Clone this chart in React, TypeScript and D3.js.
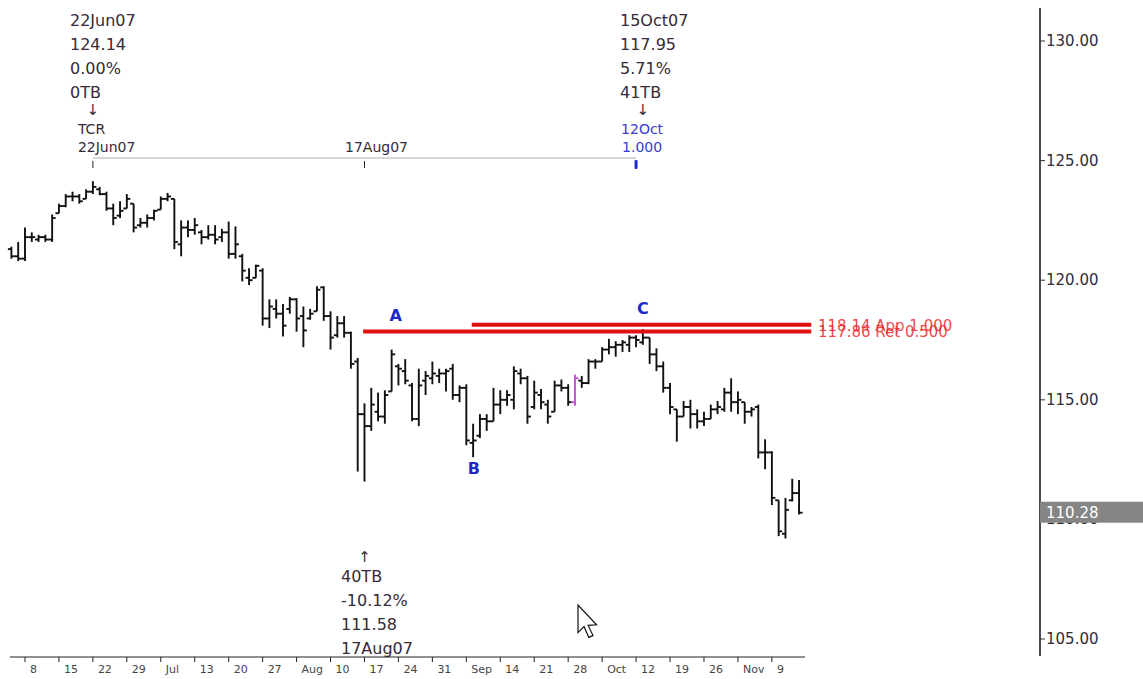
import React from "react";
import * as d3 from "d3";

const opens = [121.3,121.0,120.9,121.8,121.7,121.8,121.7,122.8,123.1,123.5,123.5,123.4,123.7,123.8,123.6,123.0,122.7,123.0,123.2,122.3,122.4,122.6,122.95,123.4,123.4,121.5,122.2,122.1,122.0,121.8,121.9,121.8,122.0,121.1,121.0,120.1,120.1,120.4,118.4,118.8,118.6,118.8,119.2,118.5,118.4,118.7,119.7,118.5,117.7,118.2,117.8,116.6,114.4,113.9,114.5,114.3,115.35,116.4,116.2,115.6,114.2,115.8,115.9,116.0,116.1,116.3,115.2,115.5,113.2,113.5,114.2,114.1,114.8,115.0,115.0,116.1,115.9,114.7,115.2,114.8,114.5,115.6,115.5,114.9,115.8,115.7,116.6,116.6,117.1,117.2,117.3,117.3,117.6,117.4,117.6,116.9,116.4,115.5,114.6,114.3,114.7,114.4,114.1,114.2,114.6,114.6,115.3,114.9,114.9,114.5,114.7,112.8,112.8,110.8,109.4,110.8,111.1];
const highs = [121.4,121.6,122.2,122.0,121.9,121.9,122.75,123.2,123.6,123.7,123.6,123.8,124.14,123.9,123.7,123.2,123.3,123.6,123.2,122.6,122.75,122.95,123.5,123.65,123.4,122.5,122.5,122.6,122.1,122.3,122.3,122.15,122.45,122.25,121.1,120.5,120.65,120.5,119.2,119.2,119.0,119.3,119.25,118.9,118.8,119.75,119.75,118.7,118.5,118.5,117.85,116.75,114.85,115.5,115.3,115.4,117.1,116.5,116.7,115.7,116.3,116.2,116.6,116.3,116.3,116.5,115.6,115.65,114.0,114.4,114.4,115.5,115.4,115.4,116.4,116.3,116.0,115.8,115.45,115.0,115.8,115.85,115.65,116.05,116.0,116.7,116.7,117.2,117.55,117.45,117.5,117.7,117.7,117.95,117.6,117.15,116.6,115.7,114.6,114.95,115.0,114.6,114.5,114.8,114.95,115.5,115.9,115.35,114.9,114.7,114.8,113.35,112.85,110.8,110.9,111.7,111.65];
const lows = [120.9,120.8,120.8,121.6,121.6,121.6,121.6,122.8,123.05,123.3,123.2,123.4,123.6,123.55,122.9,122.3,122.6,123.0,122.0,122.2,122.2,122.5,122.95,123.3,121.3,121.0,121.8,121.9,121.5,121.7,121.5,121.6,120.9,120.9,119.95,119.8,120.1,118.1,118.0,118.4,117.65,118.6,117.85,117.2,118.35,118.7,118.3,117.1,117.6,117.6,116.3,112.0,111.58,113.7,114.1,114.0,115.35,115.6,115.65,114.1,113.9,115.2,115.65,115.7,115.35,115.0,114.9,113.1,112.6,113.4,113.7,114.1,114.4,114.75,114.6,115.65,114.0,114.6,114.6,114.0,114.5,115.35,114.75,114.75,115.5,115.65,116.3,116.6,116.9,116.8,117.0,117.0,117.2,117.3,116.5,116.2,115.3,114.4,113.25,114.3,113.8,113.8,113.9,114.2,114.4,114.5,114.5,114.4,114.0,114.3,112.55,112.1,110.6,109.3,109.2,110.75,110.2];
const closes = [121.0,120.9,121.8,121.8,121.8,121.7,122.6,123.1,123.5,123.5,123.3,123.7,123.9,123.6,123.0,122.6,122.9,123.4,122.2,122.4,122.6,122.9,123.4,123.5,121.6,122.2,122.1,122.3,121.8,121.9,121.7,122.0,121.1,121.5,120.4,120.0,120.6,118.4,118.9,118.6,118.1,119.2,118.4,117.9,118.6,119.6,118.5,117.6,118.2,117.8,116.5,114.4,113.9,114.8,114.3,115.2,116.9,116.3,115.8,114.2,115.6,116.0,116.1,116.1,116.2,115.2,115.5,113.3,113.3,114.2,114.1,114.8,115.0,115.2,116.2,115.9,114.3,115.3,114.9,114.3,115.6,115.5,114.9,115.9,115.7,116.6,116.6,117.1,117.2,117.3,117.4,117.6,117.5,117.6,116.9,116.4,115.5,114.7,114.3,114.7,114.4,114.1,114.2,114.6,114.7,115.3,114.9,115.0,114.5,114.6,112.8,112.8,110.9,109.5,110.4,111.1,110.28];

// special bar highlighted in magenta (index of 1 Oct 2007)
const highlightIndex = 83;

const weekTickLabels = ["8","15","22","29","Jul","13","20","27","Aug","10","17","24","31","Sep","14","21","28","Oct","12","19","26","Nov","9"];
const weekTickIndex = weekTickLabels.map((_, k) => 2 + k * 5);

const priceTicks = [130, 125, 120, 115, 110, 105];
const lastPrice = 110.28;

const topLeftNote = ["22Jun07", "124.14", "0.00%", "0TB"];
const topRightNote = ["15Oct07", "117.95", "5.71%", "41TB"];
const bottomNote = ["40TB", "-10.12%", "111.58", "17Aug07"];

const pivotHigh = { i: 12, label: "22Jun07" };
const pivotLow = { i: 52, label: "17Aug07" };
const projection = { i: 92, label1: "12Oct", label2: "1.000" };

const levels = [
  { value: 118.14, text: "118.14 App 1.000", start: 67.8 },
  { value: 117.86, text: "117.86 Ret 0.500", start: 51.8 },
];

const waveLabels = [
  { t: "A", i: 56.6, v: 118.3 },
  { t: "B", i: 68.1, v: 111.9 },
  { t: "C", i: 93, v: 118.6 },
];

const FONT = "DejaVu Sans, Verdana, sans-serif";

export default function App() {
  const W = 1143, H = 679;
  const x = d3.scaleLinear().domain([0, 116]).range([11.4, 11.4 + 116 * 6.79]);
  const y = d3.scaleLinear().domain([105, 130]).range([639, 41]);
  const axisX = 1040;
  const axisY = 657;
  const tick = 3.5;
  const lineY = 158;
  const textColor = "#352a38";

  return (
    <svg width={W} height={H} style={{ position: "absolute", left: 0, top: 0, background: "#fff" }} fontFamily={FONT}>
      <rect x={0} y={0} width={W} height={H} fill="#fff" />
      {/* OHLC bars */}
      {opens.map((o, i) => {
        const cx = x(i);
        const col = i === highlightIndex ? "#c84ad8" : "#111";
        return (
          <g key={i} stroke={col} strokeWidth={1.9}>
            <line x1={cx} x2={cx} y1={y(highs[i])} y2={y(lows[i])} />
            <line x1={cx - tick} x2={cx} y1={y(o)} y2={y(o)} />
            <line x1={cx} x2={cx + tick} y1={y(closes[i])} y2={y(closes[i])} />
          </g>
        );
      })}

      {/* red levels */}
      {levels.map((l, k) => (
        <g key={k}>
          <line x1={x(l.start)} x2={x(117.8)} y1={y(l.value)} y2={y(l.value)} stroke="#e01010" strokeWidth={4} />
          <text x={818} y={y(l.value) + 6} fontSize={15} fill="#e8282c" fillOpacity={0.85}>{l.text}</text>
        </g>
      ))}

      {/* wave labels */}
      {waveLabels.map((w) => (
        <text key={w.t} x={x(w.i)} y={y(w.v)} fontSize={16} fontWeight="bold" fill="#1c28c8" textAnchor="middle">{w.t}</text>
      ))}

      {/* time-bar line */}
      <line x1={x(pivotHigh.i)} x2={x(projection.i)} y1={lineY} y2={lineY} stroke="#b0b0b0" strokeWidth={1} />
      <line x1={x(pivotHigh.i)} x2={x(pivotHigh.i)} y1={161} y2={168} stroke="#222" strokeWidth={1} />
      <line x1={x(pivotLow.i)} x2={x(pivotLow.i)} y1={161} y2={168} stroke="#222" strokeWidth={1} />
      <rect x={x(projection.i) - 1.5} y={160} width={3} height={9} fill="#1c28d0" rx={1} />
      <text x={x(pivotHigh.i) - 15} y={134} fontSize={14} fill={textColor}>TCR</text>
      <text x={x(pivotHigh.i) - 15} y={152} fontSize={14} fill={textColor}>{pivotHigh.label}</text>
      <text x={x(pivotLow.i) + 12} y={152} fontSize={14} fill={textColor} textAnchor="middle">{pivotLow.label}</text>
      <text x={x(projection.i) + 6} y={134} fontSize={14} fill="#3a3ad0" textAnchor="middle">{projection.label1}</text>
      <text x={x(projection.i) + 6} y={152} fontSize={14} fill="#3a3ad0" textAnchor="middle">{projection.label2}</text>

      {/* notes */}
      {topLeftNote.map((t, k) => (
        <text key={"tl" + k} x={70} y={26 + k * 24} fontSize={16} fill={textColor}>{t}</text>
      ))}
      <text x={x(pivotHigh.i)} y={115} fontSize={15} fill={textColor} textAnchor="middle">↓</text>
      {topRightNote.map((t, k) => (
        <text key={"tr" + k} x={620} y={26 + k * 24} fontSize={16} fill={textColor}>{t}</text>
      ))}
      <text x={x(93)} y={115} fontSize={15} fill={textColor} textAnchor="middle">↓</text>
      <text x={x(pivotLow.i)} y={562} fontSize={15} fill={textColor} textAnchor="middle">↑</text>
      {bottomNote.map((t, k) => (
        <text key={"b" + k} x={341} y={582 + k * 24} fontSize={16} fill={textColor}>{t}</text>
      ))}

      {/* bottom axis */}
      <line x1={10} x2={805} y1={axisY} y2={axisY} stroke="#222" strokeWidth={1} />
      {weekTickIndex.map((ti, k) => (
        <g key={"wt" + k}>
          <line x1={x(ti)} x2={x(ti)} y1={axisY} y2={axisY + 5} stroke="#222" strokeWidth={1} />
          <text x={x(ti) + 5} y={axisY + 16} fontSize={11} fill="#444">{weekTickLabels[k]}</text>
        </g>
      ))}

      {/* right axis */}
      <line x1={axisX} x2={axisX} y1={8} y2={656} stroke="#111" strokeWidth={1.5} />
      {priceTicks.map((p) => (
        <g key={p}>
          <line x1={axisX} x2={axisX + 5} y1={y(p)} y2={y(p)} stroke="#333" strokeWidth={1} />
          <text x={axisX + 6} y={y(p) + 5} fontSize={15} fill={textColor}>{p.toFixed(2)}</text>
        </g>
      ))}
      <rect x={axisX} y={y(lastPrice) - 11} width={W - axisX} height={21} fill="#858585" />
      <text x={axisX + 6} y={y(lastPrice) + 5} fontSize={15} fill="#fff">{lastPrice.toFixed(2)}</text>

      {/* mouse pointer */}
      <path
        d="M0,0 L0,23 L5,18 L9,27 L12.5,25.5 L8.5,17 L15.5,16.5 Z"
        transform="translate(578,605) scale(1.2)"
        fill="#fff"
        stroke="#111"
        strokeWidth={1}
      />
    </svg>
  );
}
